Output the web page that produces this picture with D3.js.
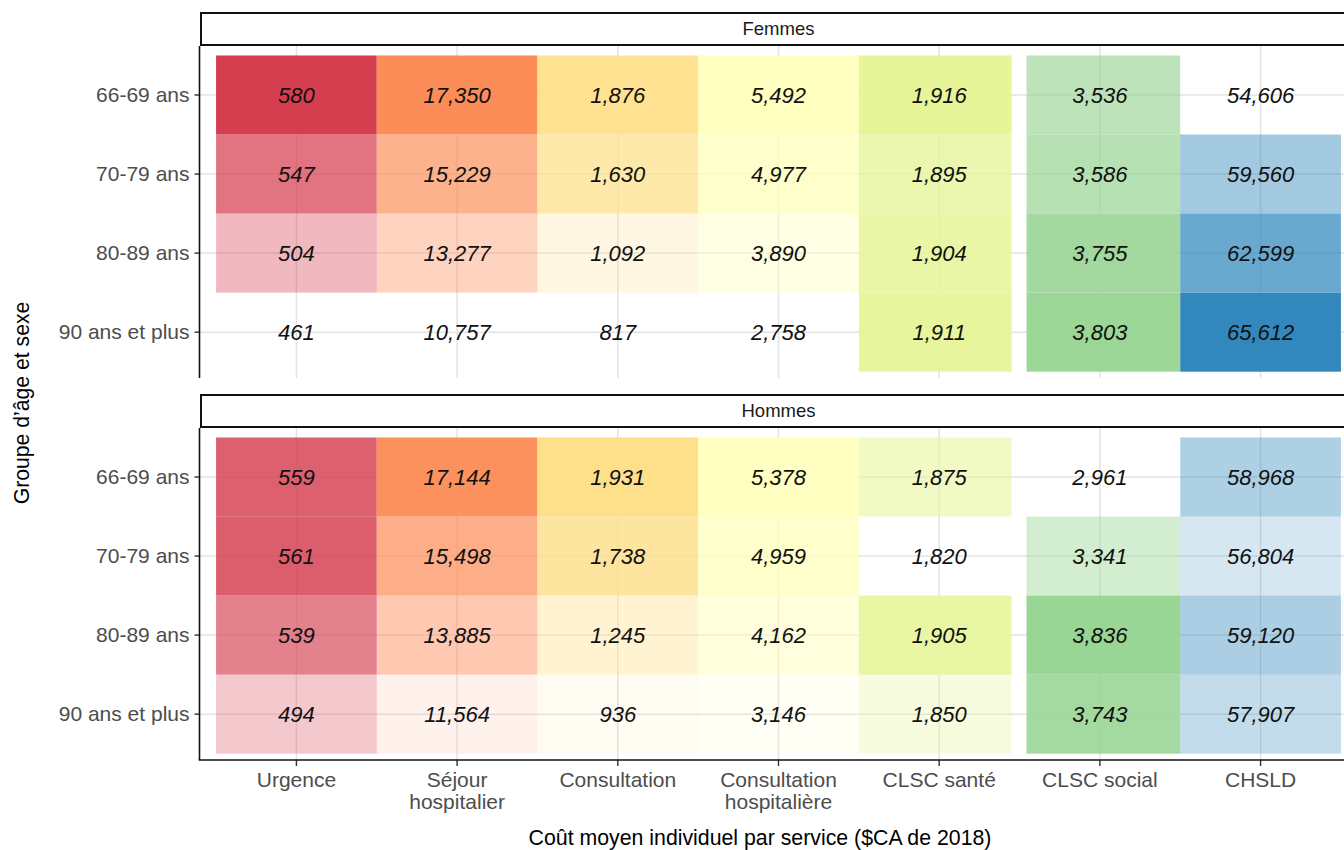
<!DOCTYPE html>
<html>
<head>
<meta charset="utf-8">
<script src="https://cdn.jsdelivr.net/npm/d3@7"></script>
<style>
  body { margin: 0; background: #fff; }
  text { font-family: "Liberation Sans", Arial, sans-serif; }
</style>
</head>
<body>
<svg id="chart"></svg>
<script>
const services = ["Urgence", "Séjour hospitalier", "Consultation", "Consultation hospitalière", "CLSC santé", "CLSC social", "CHSLD"];
const serviceLabels = [["Urgence"], ["Séjour", "hospitalier"], ["Consultation"], ["Consultation", "hospitalière"], ["CLSC santé"], ["CLSC social"], ["CHSLD"]];
const ageGroups = ["66-69 ans", "70-79 ans", "80-89 ans", "90 ans et plus"];
const sexes = ["Femmes", "Hommes"];

// one row per age group, one value per service
const femmes = [
  [580, 17350, 1876, 5492, 1916, 3536, 54606],
  [547, 15229, 1630, 4977, 1895, 3586, 59560],
  [504, 13277, 1092, 3890, 1904, 3755, 62599],
  [461, 10757, 817, 2758, 1911, 3803, 65612],
];
const hommes = [
  [559, 17144, 1931, 5378, 1875, 2961, 58968],
  [561, 15498, 1738, 4959, 1820, 3341, 56804],
  [539, 13885, 1245, 4162, 1905, 3836, 59120],
  [494, 11564, 936, 3146, 1850, 3743, 57907],
];
const serviceColors = d3.schemeSpectral[7];

const width = 1344, height = 850;
const panelLeft = 200, panelRight = 1357;
const panels = [
  { sex: "Femmes", values: femmes, stripTop: 12, top: 46, bottom: 378 },
  { sex: "Hommes", values: hommes, stripTop: 394, top: 428, bottom: 760 },
];

const svg = d3.select("#chart").attr("width", width).attr("height", height);

// ggplot-like discrete expansion: 0.6 unit on each side of the category centres
const unitX = (panelRight - panelLeft) / (services.length + 0.2);
const x = d3.scaleBand()
  .domain(services)
  .range([panelLeft + 0.1 * unitX, panelRight - 0.1 * unitX]);

// long rows for the tiles
const rows = [];
panels.forEach((p) => {
  p.values.forEach((r, i) => {
    r.forEach((v, j) => rows.push({ sex: p.sex, age: ageGroups[i], service: services[j], value: v }));
  });
});

const alphaScales = {};
services.forEach((s) => {
  const ext = d3.extent(rows.filter((d) => d.service === s), (d) => d.value);
  alphaScales[s] = d3.scaleLinear().domain(ext).range([0, 1]);
});
const color = d3.scaleOrdinal().domain(services).range(serviceColors);
const fmt = d3.format(",");

panels.forEach((p, pi) => {
  const unitY = (p.bottom - p.top) / (ageGroups.length + 0.2);
  const y = d3.scaleBand()
    .domain(ageGroups)
    .range([p.top + 0.12 * unitY, p.bottom - 0.08 * unitY]);

  const g = svg.append("g");

  // grid
  g.selectAll(".vgrid").data(services).enter().append("line")
    .attr("x1", (d) => x(d) + x.bandwidth() / 2).attr("x2", (d) => x(d) + x.bandwidth() / 2)
    .attr("y1", p.top).attr("y2", p.bottom)
    .attr("stroke", "#e3e3e3").attr("stroke-width", 1.5);
  g.selectAll(".hgrid").data(ageGroups).enter().append("line")
    .attr("x1", panelLeft).attr("x2", panelRight)
    .attr("y1", (d) => y(d) + y.bandwidth() / 2).attr("y2", (d) => y(d) + y.bandwidth() / 2)
    .attr("stroke", "#e3e3e3").attr("stroke-width", 1.5);

  const data = rows.filter((d) => d.sex === p.sex);

  // small gap between the two CLSC columns
  const gapL = (s) => (s === "CLSC social" ? 7 : 0);
  const gapR = (s) => (s === "CLSC santé" ? 8 : 0);

  g.selectAll(".tile").data(data).enter().append("rect")
    .attr("x", (d) => x(d.service) + gapL(d.service))
    .attr("y", (d) => y(d.age))
    .attr("width", (d) => x.bandwidth() - gapL(d.service) - gapR(d.service))
    .attr("height", y.bandwidth())
    .attr("fill", (d) => color(d.service))
    .attr("fill-opacity", (d) => alphaScales[d.service](d.value));

  g.selectAll(".lbl").data(data).enter().append("text")
    .attr("x", (d) => x(d.service) + x.bandwidth() / 2)
    .attr("y", (d) => y(d.age) + y.bandwidth() / 2 + 8)
    .attr("text-anchor", "middle")
    .attr("font-style", "italic")
    .attr("font-size", 22)
    .attr("fill", "#111")
    .text((d) => fmt(d.value));

  // strip
  svg.append("rect")
    .attr("x", panelLeft + 1).attr("y", p.stripTop + 1)
    .attr("width", panelRight - panelLeft).attr("height", p.top - p.stripTop - 2)
    .attr("fill", "#fff").attr("stroke", "#111").attr("stroke-width", 2);
  svg.append("text")
    .attr("x", (panelLeft + panelRight) / 2).attr("y", (p.stripTop + p.top) / 2 + 6)
    .attr("text-anchor", "middle").attr("font-size", 18.5).attr("fill", "#1a1a1a")
    .text(p.sex);

  // y axis
  const yAxis = svg.append("g")
    .attr("transform", `translate(${panelLeft - 0.5},0)`)
    .call(d3.axisLeft(y).tickSize(5).tickPadding(5));
  yAxis.select(".domain").remove();
  yAxis.selectAll(".tick line").attr("stroke", "#333").attr("stroke-width", 1.4);
  yAxis.selectAll(".tick text")
    .attr("font-family", "Liberation Sans, Arial, sans-serif")
    .attr("font-size", 21).attr("fill", "#4d4d4d");
  svg.append("line")
    .attr("x1", panelLeft - 0.5).attr("x2", panelLeft - 0.5)
    .attr("y1", p.top).attr("y2", p.bottom)
    .attr("stroke", "#111").attr("stroke-width", 1.6);

  if (pi === panels.length - 1) {
    const xAxis = svg.append("g")
      .attr("transform", `translate(0,${p.bottom})`)
      .call(d3.axisBottom(x).tickSize(6).tickFormat(""));
    xAxis.select(".domain").remove();
    xAxis.selectAll(".tick line").attr("stroke", "#333").attr("stroke-width", 1.4);
    xAxis.selectAll(".tick").each(function (d, i) {
      const t = d3.select(this).append("text")
        .attr("text-anchor", "middle")
        .attr("font-size", 21).attr("fill", "#4d4d4d");
      serviceLabels[i].forEach((line, k) => {
        t.append("tspan").attr("x", 0).attr("y", 27 + k * 22).text(line);
      });
    });
    svg.append("line")
      .attr("x1", panelLeft - 1.3).attr("x2", panelRight)
      .attr("y1", p.bottom).attr("y2", p.bottom)
      .attr("stroke", "#111").attr("stroke-width", 1.6);
  }
});

// axis titles
svg.append("text")
  .attr("x", 760).attr("y", 845)
  .attr("text-anchor", "middle").attr("font-size", 21.3).attr("fill", "#000")
  .text("Coût moyen individuel par service ($CA de 2018)");
svg.append("text")
  .attr("transform", "translate(29,403) rotate(-90)")
  .attr("text-anchor", "middle").attr("font-size", 21.2).attr("fill", "#000")
  .text("Groupe d’âge et sexe");
</script>
</body>
</html>
